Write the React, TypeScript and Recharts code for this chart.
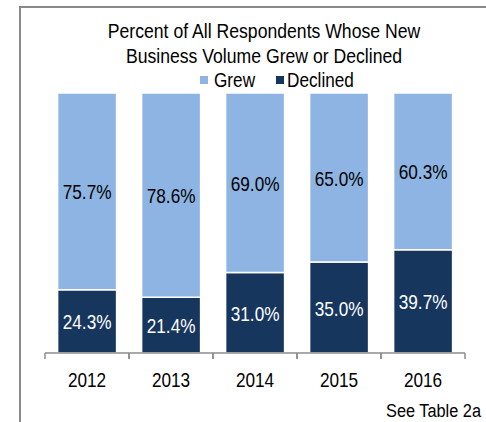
import React from 'react';
import { BarChart, Bar, XAxis, YAxis, LabelList } from 'recharts';

const years = ['2012', '2013', '2014', '2015', '2016'];
const grew = [75.7, 78.6, 69.0, 65.0, 60.3];
const declined = [24.3, 21.4, 31.0, 35.0, 39.7];
const titleLines = ['Percent of All Respondents Whose New', 'Business Volume Grew or Declined'];
const note = 'See Table 2a';

const FONT = "'Liberation Sans', Arial, sans-serif";
const GREW_COLOR = '#8DB4E2';
const DECLINED_COLOR = '#17365D';
const AXIS_COLOR = '#8c8c8c';
const NARROW = 0.86; // squeeze to look like Arial Narrow

const data = years.map((year, i) => ({ year, grew: grew[i], declined: declined[i] }));

const pct = (v: any) => `${Number(v).toFixed(1)}%`;

const NarrowText = ({ x, y, anchor = 'middle', size = 20, fill = '#000', children }: any) => (
  <text
    transform={`translate(${x},${y}) scale(${NARROW},1)`}
    textAnchor={anchor}
    fontSize={size}
    fontFamily={FONT}
    fill={fill}
  >
    {children}
  </text>
);

const YearTick = (props: any) => {
  const { x, y, payload } = props;
  const half = payload && payload.offset ? payload.offset : 42;
  return (
    <g>
      <line x1={x - half} y1={y} x2={x - half} y2={y + 6} stroke={AXIS_COLOR} strokeWidth={1.5} />
      <line x1={x + half} y1={y} x2={x + half} y2={y + 6} stroke={AXIS_COLOR} strokeWidth={1.5} />
      <NarrowText x={x} y={y + 34}>{payload.value}</NarrowText>
    </g>
  );
};

const makeLabel = (fill: string) => (props: any) => {
  const { x, y, width, height, value } = props;
  return (
    <NarrowText x={x + width / 2} y={y + height / 2 + 8} fill={fill}>
      {pct(value)}
    </NarrowText>
  );
};

const App: React.FC = () => {
  return (
    <div style={{ position: 'absolute', left: 0, top: 0, width: 486, height: 422, overflow: 'hidden', background: '#fff' }}>
      <div style={{ position: 'absolute', left: 19, top: 6, width: 600, height: 600, borderTop: '2px solid #8a8a8a', borderLeft: '2px solid #8a8a8a' }} />
      <BarChart
        width={486}
        height={422}
        data={data}
        margin={{ top: 93, right: 21, left: 45, bottom: 0 }}
        barCategoryGap="15%"
        style={{ position: 'absolute', left: 0, top: 0 }}
      >
        <XAxis
          dataKey="year"
          height={69}
          tickSize={0}
          tickMargin={0}
          tickLine={false}
          axisLine={{ stroke: AXIS_COLOR, strokeWidth: 1.5 }}
          tick={<YearTick />}
          interval={0}
        />
        <YAxis hide domain={[0, 100]} />
        <Bar dataKey="declined" stackId="a" fill={DECLINED_COLOR} stroke="#fff" strokeWidth={1.5} isAnimationActive={false}>
          <LabelList dataKey="declined" content={makeLabel('#fff')} />
        </Bar>
        <Bar dataKey="grew" stackId="a" fill={GREW_COLOR} stroke="#fff" strokeWidth={1.5} isAnimationActive={false}>
          <LabelList dataKey="grew" content={makeLabel('#000')} />
        </Bar>
      </BarChart>
      <svg width={486} height={422} style={{ position: 'absolute', left: 0, top: 0, pointerEvents: 'none' }}>
        {titleLines.map((line, i) => (
          <NarrowText key={line} x={264} y={38 + i * 25} size={20.5}>{line}</NarrowText>
        ))}
        <rect x={200} y={76} width={8} height={8} fill={GREW_COLOR} />
        <NarrowText x={214} y={87} anchor="start">Grew</NarrowText>
        <rect x={276} y={76} width={8} height={8} fill={DECLINED_COLOR} />
        <NarrowText x={287} y={87} anchor="start">Declined</NarrowText>
        <NarrowText x={386} y={417} anchor="start" size={19}>{note}</NarrowText>
      </svg>
    </div>
  );
};

export default App;
